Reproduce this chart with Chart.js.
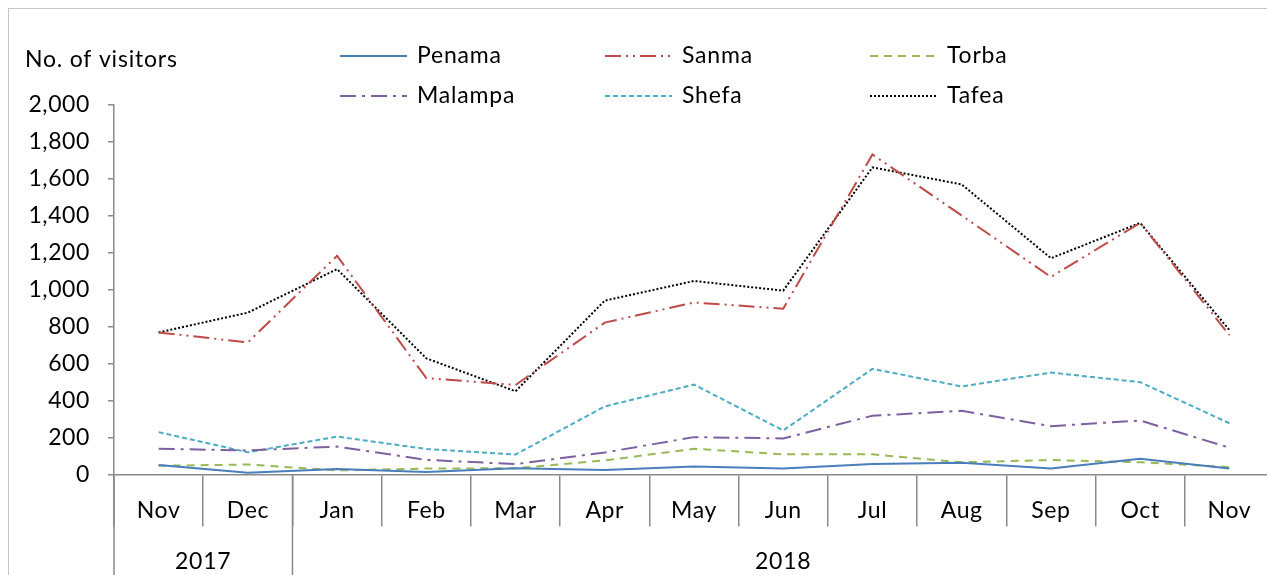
<!DOCTYPE html>
<html>
<head>
<meta charset="utf-8">
<script src="https://cdn.jsdelivr.net/npm/chart.js@4"></script>
<style>
  body { margin: 0; overflow: hidden; background: #fff; }
</style>
</head>
<body>
<canvas id="grafico" width="1280" height="575"></canvas>
<script>
const months = ['Nov', 'Dec', 'Jan', 'Feb', 'Mar', 'Apr', 'May', 'Jun', 'Jul', 'Aug', 'Sep', 'Oct', 'Nov'];
const years = ['2017', '2018'];
const monthsPerYear = [2, 11];

const penama = [52, 10, 30, 14, 34, 24, 43, 32, 57, 64, 32, 85, 32];
const sanma = [768, 714, 1182, 521, 484, 821, 930, 896, 1730, 1400, 1068, 1360, 754];
const torba = [47, 54, 22, 32, 34, 76, 139, 109, 109, 66, 78, 66, 40];
const malampa = [139, 130, 151, 79, 56, 119, 202, 195, 318, 344, 261, 292, 145];
const shefa = [229, 120, 205, 138, 108, 368, 486, 238, 571, 476, 551, 499, 277];
const tafea = [768, 875, 1110, 628, 450, 940, 1046, 994, 1660, 1568, 1169, 1360, 781];

const fonte = 'Lato';
const tamanho = 23;
const cinza = '#8a8a8a';

function serie(label, data, color, dash) {
    return {
        label: label,
        data: data,
        borderColor: color,
        backgroundColor: color,
        borderWidth: 2,
        borderDash: dash,
        pointRadius: 0,
        tension: 0,
        fill: false
    };
}

// legenda, eixo de anos e moldura desenhados à mão
const extras = {
    id: 'extras',
    beforeDraw(chart) {
        chart.ctx.letterSpacing = '0.6px';
    },
    afterDraw(chart) {
        const ctx = chart.ctx;
        const area = chart.chartArea;
        const x = chart.scales.x;
        const h = chart.height;

        ctx.save();
        ctx.letterSpacing = '0.8px';
        // moldura
        ctx.strokeStyle = '#c4c4c4';
        ctx.lineWidth = 1;
        ctx.strokeRect(8.5, 8.5, 2000, 2000);

        // titulo do eixo y
        ctx.fillStyle = '#000';
        ctx.font = tamanho + 'px ' + fonte;
        ctx.textAlign = 'left';
        ctx.textBaseline = 'middle';
        ctx.fillText('No. of visitors', 25, 60);

        // separadores de ano
        const half = (x.getPixelForValue(1) - x.getPixelForValue(0)) / 2;
        ctx.strokeStyle = cinza;
        ctx.lineWidth = 1.5;
        let start = 0;
        ctx.textAlign = 'center';
        years.forEach((ano, i) => {
            const left = x.getPixelForValue(start) - half;
            const right = x.getPixelForValue(start + monthsPerYear[i] - 1) + half;
            ctx.beginPath();
            ctx.moveTo(left, area.bottom);
            ctx.lineTo(left, h);
            ctx.stroke();
            ctx.fillText(ano, (left + Math.min(right, chart.width + 6)) / 2, 562);
            start += monthsPerYear[i];
        });

        // legenda
        chart.data.datasets.forEach((ds, i) => {
            const col = i % 3;
            const row = Math.floor(i / 3);
            const tx = 417 + col * 265;
            const ty = 56 + row * 40;
            ctx.strokeStyle = ds.borderColor;
            ctx.lineWidth = 2;
            ctx.setLineDash(ds.borderDash || []);
            ctx.beginPath();
            ctx.moveTo(tx - 77, ty);
            ctx.lineTo(tx - 10, ty);
            ctx.stroke();
            ctx.setLineDash([]);
            ctx.fillStyle = '#000';
            ctx.textAlign = 'left';
            ctx.fillText(ds.label, tx, ty);
        });
        ctx.restore();
    }
};

const ctx = document.getElementById('grafico').getContext('2d');
new Chart(ctx, {
    type: 'line',
    data: {
        labels: months,
        datasets: [
            serie('Penama', penama, '#4a7ebb', []),
            serie('Sanma', sanma, '#be4b48', [16, 5, 2, 5, 2, 5]),
            serie('Torba', torba, '#98b954', [8, 6]),
            serie('Malampa', malampa, '#7d60a0', [16, 6, 3, 6]),
            serie('Shefa', shefa, '#4bacc6', [5, 3]),
            serie('Tafea', tafea, '#000000', [2, 2])
        ]
    },
    options: {
        responsive: false,
        animation: false,
        layout: {
            padding: { top: 104.5, right: 6, left: 0, bottom: 0 }
        },
        plugins: {
            legend: { display: false },
            tooltip: { enabled: false }
        },
        scales: {
            x: {
                offset: true,
                afterFit: function (scale) { scale.height = 100.5; },
                grid: {
                    offset: true,
                    drawOnChartArea: false,
                    drawTicks: true,
                    tickLength: 52,
                    color: cinza,
                    lineWidth: 1.5
                },
                border: { display: true, color: cinza, width: 1.5 },
                ticks: {
                    color: '#000',
                    font: { family: fonte, size: tamanho },
                    padding: -30,
                    maxRotation: 0,
                    autoSkip: false
                }
            },
            y: {
                min: 0,
                max: 2000,
                afterFit: function (scale) { scale.width = 114; },
                grid: {
                    drawOnChartArea: false,
                    drawTicks: true,
                    tickLength: 6,
                    color: cinza,
                    lineWidth: 1.5
                },
                border: { display: true, color: cinza, width: 1.5 },
                ticks: {
                    stepSize: 200,
                    color: '#000',
                    padding: 18,
                    font: { family: fonte, size: tamanho },
                    callback: function (value) { return value.toLocaleString('en-US'); }
                }
            }
        }
    },
    plugins: [extras]
});
</script>
</body>
</html>
